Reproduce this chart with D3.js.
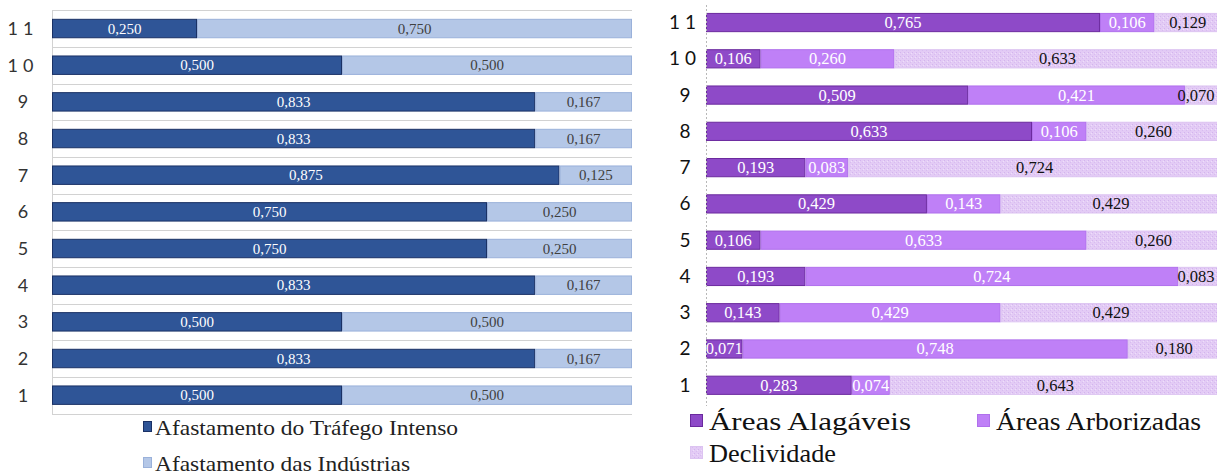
<!DOCTYPE html>
<html>
<head>
<meta charset="utf-8">
<script src="https://cdn.jsdelivr.net/npm/d3@7/dist/d3.min.js"></script>
<style>
  html, body { margin: 0; padding: 0; background: #fff; }
  svg { display: block; }
</style>
</head>
<body>
<svg id="chart" width="1217" height="474"></svg>
<script>
// Category labels (rows, bottom to top)
const categories = ["1", "2", "3", "4", "5", "6", "7", "8", "9", "10", "11"];

// Left chart series
const leftSeriesNames = ["Afastamento do Tráfego Intenso", "Afastamento das Indústrias"];
const trafego    = [0.500, 0.833, 0.500, 0.833, 0.750, 0.750, 0.875, 0.833, 0.833, 0.500, 0.250];
const industrias = [0.500, 0.167, 0.500, 0.167, 0.250, 0.250, 0.125, 0.167, 0.167, 0.500, 0.750];

// Right chart series
const rightSeriesNames = ["Áreas Alagáveis", "Áreas Arborizadas", "Declividade"];
const alagaveis   = [0.283, 0.071, 0.143, 0.193, 0.106, 0.429, 0.193, 0.633, 0.509, 0.106, 0.765];
const arborizadas = [0.074, 0.748, 0.429, 0.724, 0.633, 0.143, 0.083, 0.106, 0.421, 0.260, 0.106];
const declividade = [0.643, 0.180, 0.429, 0.083, 0.260, 0.429, 0.724, 0.260, 0.070, 0.633, 0.129];

const svg = d3.select("#chart");
const fmt = v => d3.format(".3f")(v).replace(".", ",");
const SERIF = "'Liberation Serif', 'Times New Roman', serif";
const SANS = "Lato, 'Open Sans', sans-serif";
const W = 1217;

// Speckled texture for the "Declividade" fill
const defs = svg.append("defs");
const pat = defs.append("pattern")
  .attr("id", "decl").attr("patternUnits", "userSpaceOnUse")
  .attr("width", 4).attr("height", 4);
pat.append("rect").attr("width", 4).attr("height", 4).attr("fill", "#E3CBF5");
pat.append("rect").attr("x", 0).attr("y", 0).attr("width", 1).attr("height", 1).attr("fill", "#D3B4EE");
pat.append("rect").attr("x", 2).attr("y", 2).attr("width", 1).attr("height", 1).attr("fill", "#D8BCF0");
pat.append("rect").attr("x", 3).attr("y", 1).attr("width", 1).attr("height", 1).attr("fill", "#EEDFFA");

function buildRows(seriesArrays, keys) {
  return categories.map((c, i) => {
    const row = { cat: c };
    keys.forEach((k, j) => row[k] = seriesArrays[j][i]);
    return row;
  });
}

// Value label centred on its segment, kept inside the drawing
function labelX(x, d, approxWidth) {
  const cx = (x(d[0]) + x(d[1])) / 2;
  return Math.min(cx, W - 2 - approxWidth / 2);
}

// ---------- Left chart ----------
(function () {
  const keys = leftSeriesNames;
  const rows = buildRows([trafego, industrias], keys);
  const x = d3.scaleLinear().domain([0, 1]).range([52, 632]);
  const y = d3.scaleBand().domain(categories.slice().reverse()).range([10.2, 413.5]).paddingInner(0.47).paddingOuter(0.235);
  const fills   = ["#2F5597", "#B4C7E7"];
  const strokes = ["#1A3165", "#9AB1DA"];
  const textFill = ["#ffffff", "#404040"];

  const g = svg.append("g");

  // Row separators
  const bounds = d3.range(categories.length + 1).map(i => 10.2 + i * (403.3 / categories.length));
  g.selectAll("line.grid").data(bounds).join("line")
    .attr("x1", x(0)).attr("x2", x(1))
    .attr("y1", d => Math.round(d) + 0.5).attr("y2", d => Math.round(d) + 0.5)
    .attr("stroke", "#D2D2D2").attr("stroke-width", 1.2);

  // Vertical category axis line
  g.append("line")
    .attr("x1", x(0) + 0.5).attr("x2", x(0) + 0.5)
    .attr("y1", 10).attr("y2", 414)
    .attr("stroke", "#D2D2D2");

  const stacked = d3.stack().keys(keys)(rows);
  const layer = g.selectAll("g.layer").data(stacked).join("g");
  layer.each(function (s, si) {
    d3.select(this).selectAll("rect").data(s).join("rect")
      .attr("x", d => x(d[0]) + 0.5)
      .attr("y", d => y(d.data.cat) + 0.5)
      .attr("width", d => Math.max(0, x(d[1]) - x(d[0]) - 1))
      .attr("height", y.bandwidth() - 1)
      .attr("fill", fills[si])
      .attr("stroke", strokes[si])
      .attr("stroke-width", 1);
    d3.select(this).selectAll("text").data(s).join("text")
      .attr("x", d => labelX(x, d, 38))
      .attr("y", d => y(d.data.cat) + y.bandwidth() / 2 + 5)
      .attr("text-anchor", "middle")
      .attr("font-family", SERIF)
      .attr("font-size", 15)
      .attr("fill", textFill[si])
      .text(d => fmt(d[1] - d[0]));
  });

  // Category labels
  g.selectAll("text.cat").data(categories).join("text")
    .attr("class", "cat")
    .attr("x", 23)
    .attr("y", d => y(d) + y.bandwidth() / 2 + 6.5)
    .attr("text-anchor", "middle")
    .attr("font-family", SANS)
    .attr("font-size", 18)
    .attr("letter-spacing", d => d.length > 1 ? 5 : 0)
    .attr("fill", "#333")
    .text(d => d);

  // Legend
  const legWidths = [303, 255];
  const leg = g.selectAll("g.leg").data(keys).join("g")
    .attr("transform", (d, i) => `translate(143, ${427 + i * 36})`);
  leg.append("rect")
    .attr("x", 0.5).attr("y", -5.5).attr("width", 8).attr("height", 10)
    .attr("fill", (d, i) => fills[i]).attr("stroke", (d, i) => strokes[i]);
  leg.append("text")
    .attr("x", 12).attr("y", 7.5)
    .attr("font-family", SERIF)
    .attr("font-size", 22)
    .attr("textLength", (d, i) => legWidths[i])
    .attr("lengthAdjust", "spacingAndGlyphs")
    .attr("fill", "#222")
    .text(d => d);
})();

// ---------- Right chart ----------
(function () {
  const keys = rightSeriesNames;
  const rows = buildRows([alagaveis, arborizadas, declividade], keys);
  const x = d3.scaleLinear().domain([0, 1]).range([706, 1221]);
  const y = d3.scaleBand().domain(categories.slice().reverse()).range([4.4, 403.4]).paddingInner(0.47).paddingOuter(0.235);
  const fills   = ["#8E4AC8", "#BF80F7", "url(#decl)"];
  const strokes = ["#6B2A9E", "#B070EC", "#DCC3F1"];
  const textFill = ["#ffffff", "#ffffff", "#111111"];

  const g = svg.append("g");

  const stacked = d3.stack().keys(keys)(rows);
  const layer = g.selectAll("g.layer").data(stacked).join("g");
  layer.each(function (s, si) {
    d3.select(this).selectAll("rect").data(s).join("rect")
      .attr("x", d => x(d[0]) + 0.5)
      .attr("y", d => y(d.data.cat) + 0.5)
      .attr("width", d => Math.max(0, x(d[1]) - x(d[0]) - 1))
      .attr("height", y.bandwidth() - 1)
      .attr("fill", fills[si])
      .attr("stroke", strokes[si])
      .attr("stroke-width", 1);
  });
  layer.each(function (s, si) {
    d3.select(this).selectAll("text").data(s).join("text")
      .attr("x", d => labelX(x, d, 38))
      .attr("y", d => y(d.data.cat) + y.bandwidth() / 2 + 5.5)
      .attr("text-anchor", "middle")
      .attr("font-family", SERIF)
      .attr("font-size", 16.5)
      .attr("fill", textFill[si])
      .text(d => fmt(d[1] - d[0]));
  });

  // Dashed category axis line
  g.append("line")
    .attr("x1", 706.5).attr("x2", 706.5)
    .attr("y1", 5).attr("y2", 406)
    .attr("stroke", "#B8B8B8").attr("stroke-dasharray", "2,2");

  // Category labels
  g.selectAll("text.cat").data(categories).join("text")
    .attr("class", "cat")
    .attr("x", 685)
    .attr("y", d => y(d) + y.bandwidth() / 2 + 6.5)
    .attr("text-anchor", "middle")
    .attr("font-family", SANS)
    .attr("font-size", 19)
    .attr("letter-spacing", d => d.length > 1 ? 5 : 0)
    .attr("fill", "#111")
    .text(d => d);

  // Legend
  const legPos = [[690, 421], [977, 421], [690, 453]];
  const legWidths = [202, 205, 127];
  const leg = g.selectAll("g.leg").data(keys).join("g")
    .attr("transform", (d, i) => `translate(${legPos[i][0]}, ${legPos[i][1]})`);
  leg.append("rect")
    .attr("x", 0.5).attr("y", -6.5).attr("width", 12).attr("height", 12)
    .attr("fill", (d, i) => fills[i]).attr("stroke", (d, i) => strokes[i]);
  leg.append("text")
    .attr("x", 19).attr("y", 8.5)
    .attr("font-family", SERIF)
    .attr("font-size", 25)
    .attr("textLength", (d, i) => legWidths[i])
    .attr("lengthAdjust", "spacingAndGlyphs")
    .attr("fill", "#111")
    .text(d => d);
})();
</script>
</body>
</html>
